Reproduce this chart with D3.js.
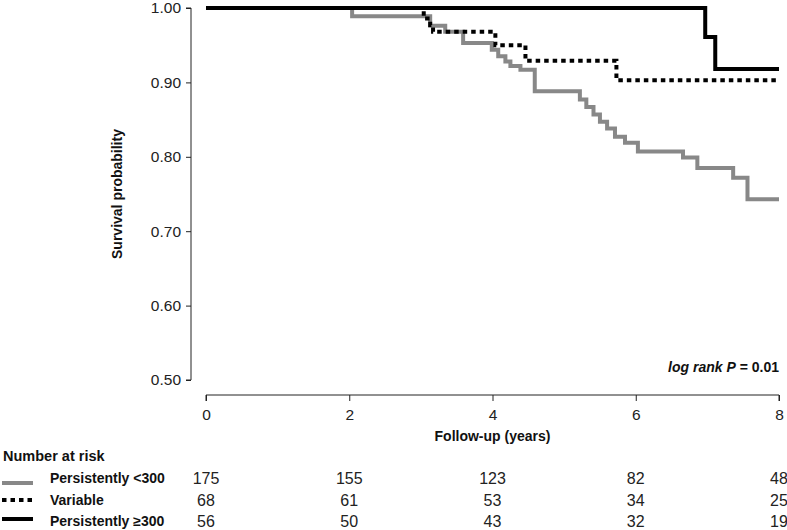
<!DOCTYPE html>
<html><head><meta charset="utf-8">
<script src="https://cdn.jsdelivr.net/npm/d3@7"></script>
<style>body{margin:0;background:#fff}svg{display:block;font-family:"Liberation Sans",Arial,sans-serif}</style>
</head><body><svg id="c" width="787" height="530"></svg>
<script>
// Kaplan-Meier steps: time (years) and survival probability
const lowTimes  = [0, 2.04, 3.13, 3.34, 3.59, 3.99, 4.08, 4.18, 4.25, 4.39, 4.59, 5.22, 5.31, 5.41, 5.50, 5.60, 5.71, 5.85, 6.03, 6.66, 6.86, 7.36, 7.56, 8];
const lowSurv   = [1, 0.989, 0.976, 0.968, 0.953, 0.944, 0.935, 0.928, 0.922, 0.917, 0.888, 0.877, 0.867, 0.857, 0.847, 0.838, 0.827, 0.819, 0.807, 0.799, 0.785, 0.772, 0.743, 0.743];
const varTimes  = [0, 3.04, 3.13, 3.17, 4.04, 4.46, 5.73, 8];
const varSurv   = [1, 0.986, 0.977, 0.968, 0.950, 0.929, 0.903, 0.903];
const highTimes = [0, 6.97, 7.11, 8];
const highSurv  = [1, 0.961, 0.918, 0.918];

const xTicks = [0, 2, 4, 6, 8];
const yTicks = [0.5, 0.6, 0.7, 0.8, 0.9, 1.0];
const groupNames = ["Persistently <300", "Variable", "Persistently \u2265300"];
const riskLow  = [175, 155, 123, 82, 48];
const riskVar  = [68, 61, 53, 34, 25];
const riskHigh = [56, 50, 43, 32, 19];

const svg = d3.select("#c");
const x = d3.scaleLinear().domain([0, 8]).range([206, 779]);
const y = d3.scaleLinear().domain([0.5, 1.0]).range([380, 8]);
const FONT = "Liberation Sans, Arial, sans-serif";

const styles = [
  {color: "#888888", dash: null},
  {color: "#000", dash: "4.5,4"},
  {color: "#000", dash: null}
];
const series = [
  {t: lowTimes, s: lowSurv},
  {t: varTimes, s: varSurv},
  {t: highTimes, s: highSurv}
];

// y axis
const yAxis = svg.append("g").attr("transform", "translate(191,0)")
  .call(d3.axisLeft(y).tickValues(yTicks).tickFormat(d3.format(".2f")).tickSize(5).tickPadding(5));
yAxis.select(".domain").attr("d", `M-5,${y(0.5)}H0V${y(1)}H-5`).attr("stroke", "#222");
yAxis.selectAll(".tick line").attr("stroke", "#222");
yAxis.selectAll("text").attr("font-size", 15.5).attr("fill", "#222").attr("font-family", FONT);

// x axis
const xAxis = svg.append("g").attr("transform", "translate(0,395)")
  .call(d3.axisBottom(x).tickValues(xTicks).tickSize(6).tickPadding(8));
xAxis.select(".domain").attr("d", `M${x(0)},6V0H${x(8)}V6`).attr("stroke", "#222");
xAxis.selectAll(".tick line").attr("stroke", "#222");
xAxis.selectAll("text").attr("font-size", 15.5).attr("fill", "#222").attr("font-family", FONT);

svg.append("text").attr("x", (x(0) + x(8)) / 2).attr("y", 441).attr("text-anchor", "middle")
  .attr("font-size", 14).attr("font-weight", "bold").attr("fill", "#111").text("Follow-up (years)");
svg.append("text").attr("transform", `translate(122,${(y(0.5) + y(1)) / 2}) rotate(-90)`).attr("text-anchor", "middle")
  .attr("font-size", 14).attr("font-weight", "bold").attr("fill", "#111").text("Survival probability");

// curves
const line = d3.line().curve(d3.curveStepAfter).x(d => x(d[0])).y(d => y(d[1]));
[0, 1, 2].forEach(i => {
  const pts = series[i].t.map((t, k) => [t, series[i].s[k]]);
  const p = svg.append("path").attr("d", line(pts)).attr("fill", "none")
    .attr("stroke", styles[i].color).attr("stroke-width", 4);
  if (styles[i].dash) p.attr("stroke-dasharray", styles[i].dash);
});

// log rank
const lr = svg.append("text").attr("x", 779).attr("y", 372).attr("text-anchor", "end")
  .attr("font-size", 14).attr("font-weight", "bold").attr("fill", "#111");
lr.append("tspan").attr("font-style", "italic").text("log rank P");
lr.append("tspan").text(" = 0.01");

// number at risk
svg.append("text").attr("x", 3).attr("y", 461).attr("font-size", 14.5).attr("font-weight", "bold").attr("fill", "#111").text("Number at risk");
const rows = [riskLow, riskVar, riskHigh];
const rowC = [478, 500, 521];
const legLineY = [483, 500, 519];
rows.forEach((r, i) => {
  const l = svg.append("line").attr("x1", 2).attr("x2", 33).attr("y1", legLineY[i]).attr("y2", legLineY[i])
    .attr("stroke", styles[i].color).attr("stroke-width", 4);
  if (styles[i].dash) l.attr("stroke-dasharray", styles[i].dash);
  svg.append("text").attr("x", 50).attr("y", rowC[i] + 5).attr("font-size", 14).attr("font-weight", "bold").attr("fill", "#111").text(groupNames[i]);
  svg.selectAll(null).data(r).enter().append("text")
    .attr("x", (d, k) => x(xTicks[k]))
    .attr("y", rowC[i] + 6).attr("text-anchor", "middle").attr("font-size", 16).attr("fill", "#222").attr("font-family", FONT).text(d => d);
});
</script></body></html>
